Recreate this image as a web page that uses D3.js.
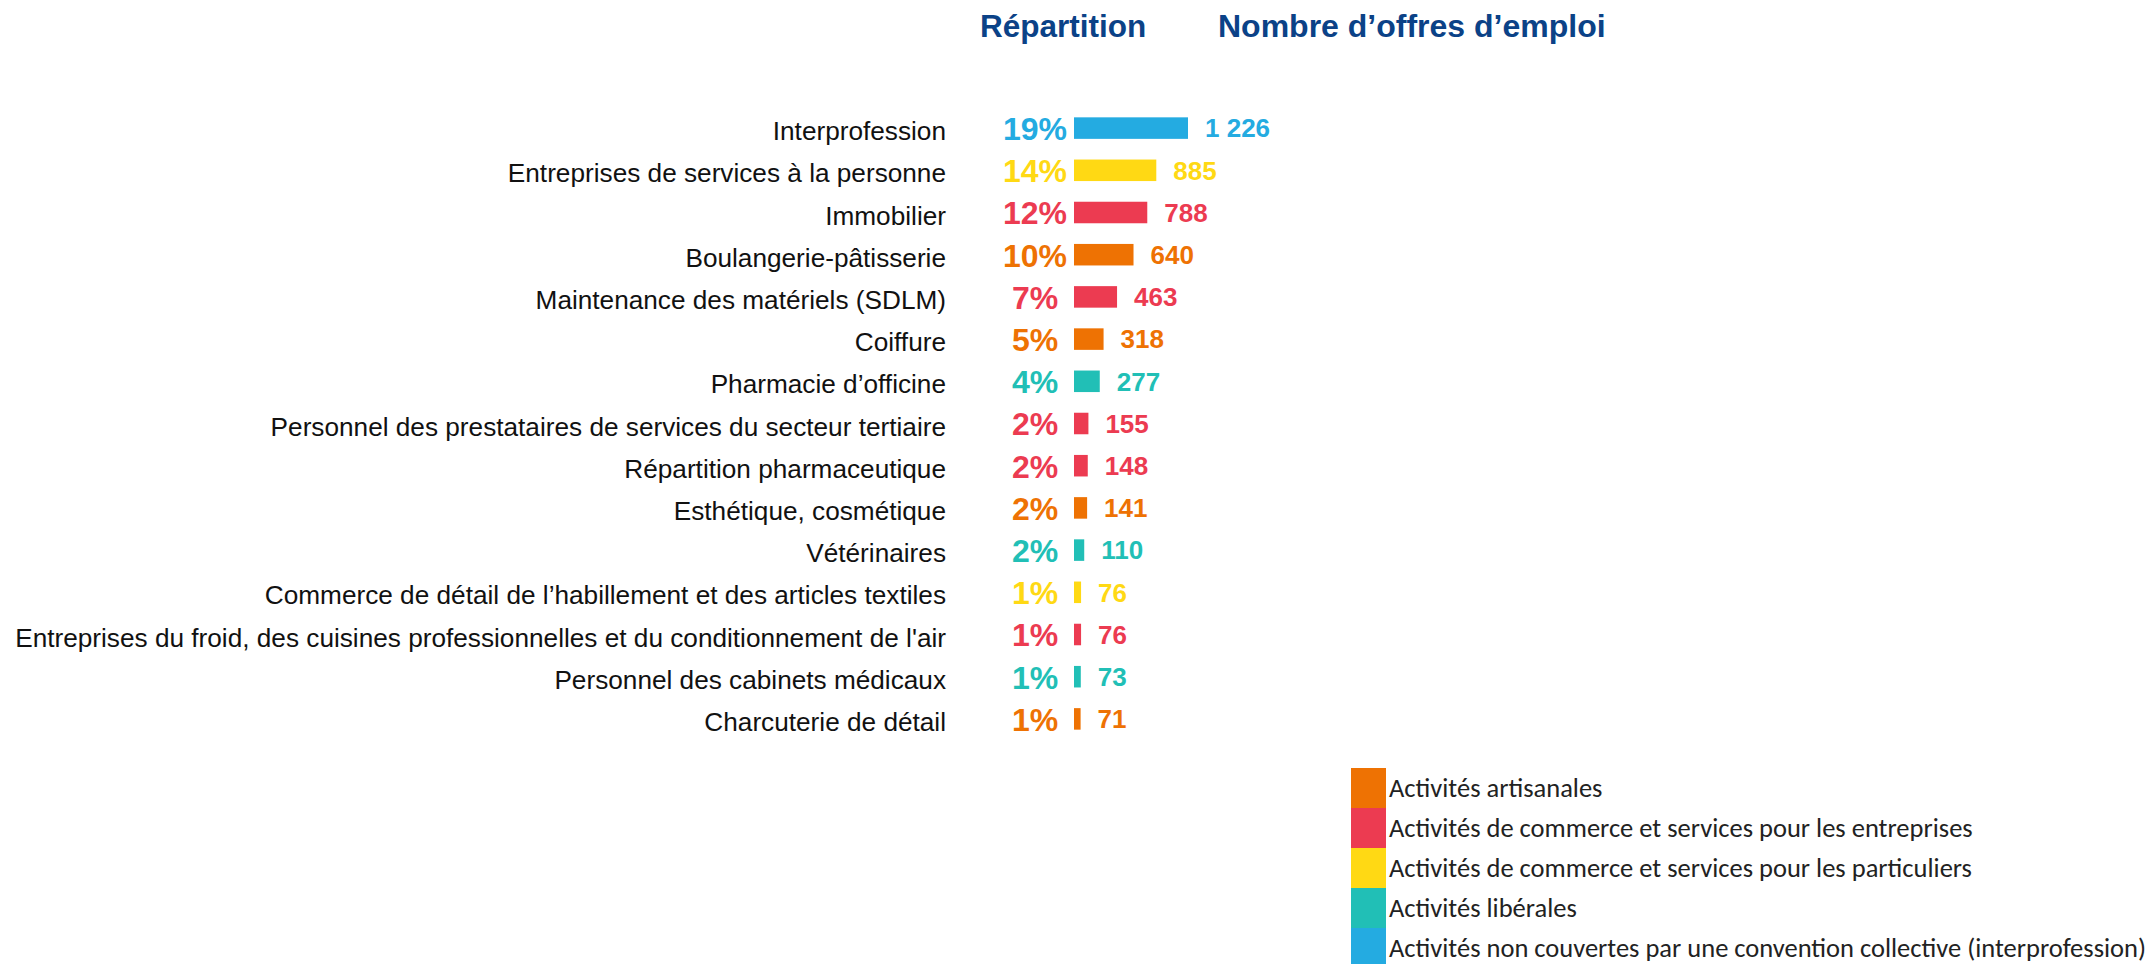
<!DOCTYPE html>
<html>
<head>
<meta charset="utf-8">
<script src="https://cdn.jsdelivr.net/npm/d3@7"></script>
<style>
  body { margin: 0; background: #fff; }
</style>
</head>
<body>
<div id="chart"></div>
<script>
var width = 2154;
var height = 964;

// Data
var categories = [
    "Interprofession",
    "Entreprises de services à la personne",
    "Immobilier",
    "Boulangerie-pâtisserie",
    "Maintenance des matériels (SDLM)",
    "Coiffure",
    "Pharmacie d’officine",
    "Personnel des prestataires de services du secteur tertiaire",
    "Répartition pharmaceutique",
    "Esthétique, cosmétique",
    "Vétérinaires",
    "Commerce de détail de l’habillement et des articles textiles",
    "Entreprises du froid, des cuisines professionnelles et du conditionnement de l'air",
    "Personnel des cabinets médicaux",
    "Charcuterie de détail"
];
var offres = [1226, 885, 788, 640, 463, 318, 277, 155, 148, 141, 110, 76, 76, 73, 71];
var parts = [19, 14, 12, 10, 7, 5, 4, 2, 2, 2, 2, 1, 1, 1, 1];
var groupes = ["I", "P", "E", "A", "E", "A", "L", "E", "E", "A", "L", "P", "E", "L", "A"];

var legendKeys = ["A", "E", "P", "L", "I"];
var legendLabels = [
    "Activités artisanales",
    "Activités de commerce et services pour les entreprises",
    "Activités de commerce et services pour les particuliers",
    "Activités libérales",
    "Activités non couvertes par une convention collective (interprofession)"
];
var legendColors = ["#ee7203", "#ec3b51", "#ffd914", "#21bfb6", "#24abe1"];

var color = d3.scaleOrdinal().domain(legendKeys).range(legendColors);

var data = categories.map(function(c, i) {
    return {name: c, value: offres[i], pct: parts[i], grp: groupes[i]};
});

var svg = d3.select("#chart")
            .append("svg")
            .attr("width", width)
            .attr("height", height);

// scales
var xScale = d3.scaleLinear()
               .domain([0, d3.max(offres)])
               .range([1074, 1188]);

var yScale = d3.scaleBand()
               .domain(categories)
               .range([107, 740])
               .paddingInner(0.49)
               .paddingOuter(0.245);

var mid = function(d) { return yScale(d.name) + yScale.bandwidth() / 2; };

// titles
svg.append("text")
    .attr("x", 980)
    .attr("y", 37)
    .attr("font-family", "Liberation Sans, Arial, sans-serif")
    .attr("font-weight", "bold")
    .attr("font-size", 31.5)
    .attr("fill", "#0b4287")
    .text("Répartition");

svg.append("text")
    .attr("x", 1218)
    .attr("y", 37)
    .attr("font-family", "Liberation Sans, Arial, sans-serif")
    .attr("font-weight", "bold")
    .attr("font-size", 32)
    .attr("fill", "#0b4287")
    .text("Nombre d’offres d’emploi");

// category labels (y axis)
var yAxis = svg.append("g")
    .attr("class", "y_axis")
    .attr("transform", "translate(946,0)")
    .call(d3.axisLeft(yScale).tickSize(0).tickPadding(0));
yAxis.select(".domain").remove();
yAxis.selectAll("text")
    .attr("font-family", "Liberation Sans, Arial, sans-serif")
    .attr("font-size", 26.2)
    .attr("fill", "#111")
    .attr("dy", "0.46em");

// bars
svg.selectAll("rect.bar")
    .data(data)
    .enter()
    .append("rect")
    .attr("class", "bar")
    .attr("x", xScale(0))
    .attr("y", function(d) { return yScale(d.name); })
    .attr("width", function(d) { return xScale(d.value) - xScale(0); })
    .attr("height", yScale.bandwidth())
    .attr("fill", function(d) { return color(d.grp); });

// percentages
svg.selectAll("text.pct")
    .data(data)
    .enter()
    .append("text")
    .attr("class", "pct")
    .attr("x", 1035)
    .attr("y", mid)
    .attr("dy", "0.37em")
    .attr("text-anchor", "middle")
    .attr("font-family", "Liberation Sans, Arial, sans-serif")
    .attr("font-weight", "bold")
    .attr("font-size", 32)
    .attr("fill", function(d) { return color(d.grp); })
    .text(function(d) { return d.pct + "%"; });

// values
svg.selectAll("text.val")
    .data(data)
    .enter()
    .append("text")
    .attr("class", "val")
    .attr("x", function(d) { return xScale(d.value) + 17; })
    .attr("y", mid)
    .attr("dy", "0.36em")
    .attr("font-family", "Liberation Sans, Arial, sans-serif")
    .attr("font-weight", "bold")
    .attr("font-size", 26)
    .attr("fill", function(d) { return color(d.grp); })
    .text(function(d) { return d3.format(",")(d.value).replace(",", " "); });

// legend
var legend = svg.selectAll("g.legend")
    .data(legendKeys)
    .enter()
    .append("g")
    .attr("class", "legend")
    .attr("transform", function(d, i) { return "translate(1351," + (768 + i * 40) + ")"; });

legend.append("rect")
    .attr("width", 35)
    .attr("height", 40)
    .attr("fill", function(d) { return color(d); });

legend.append("text")
    .attr("x", 38)
    .attr("y", 20)
    .attr("dy", "0.35em")
    .attr("font-family", "Carlito, Calibri, Lato, sans-serif")
    .attr("font-size", 26.5)
    .attr("fill", "#222")
    .text(function(d, i) { return legendLabels[i]; });
</script>
</body>
</html>
